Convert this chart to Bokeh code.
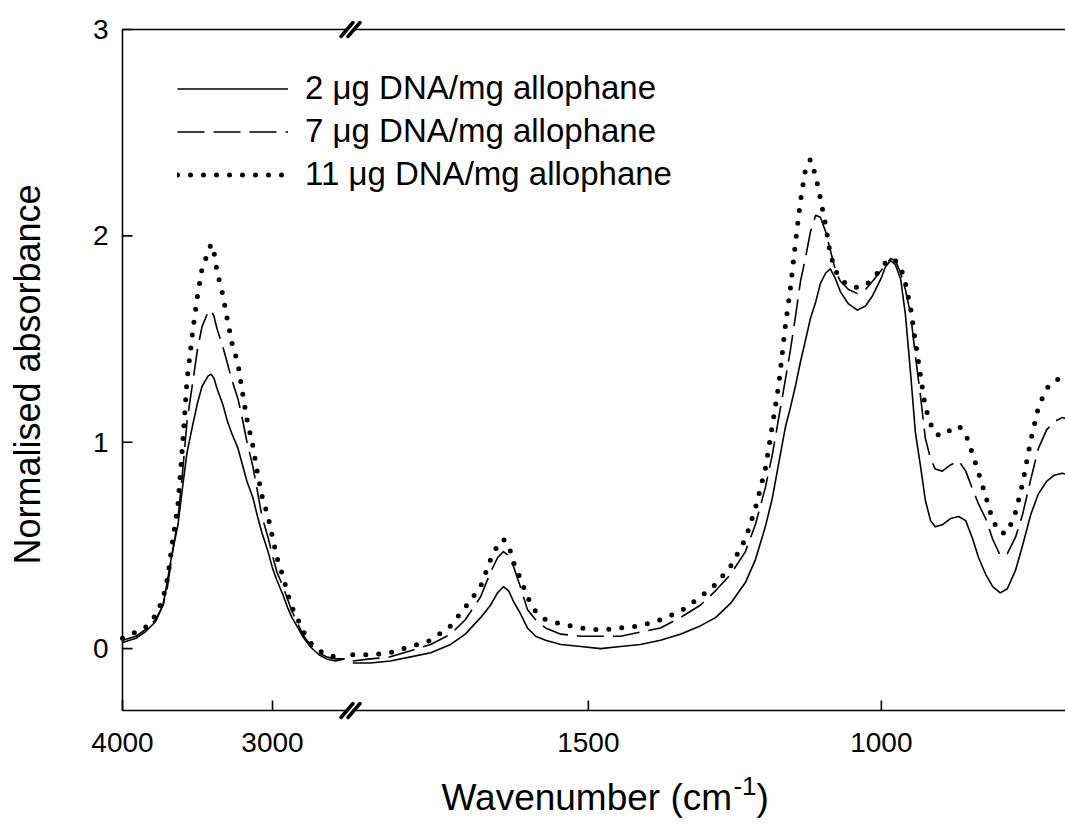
import numpy as np
from bokeh.plotting import figure
from bokeh.models import Range1d, Legend, LegendItem, Label
from bokeh.core.properties import value
from bokeh.embed import file_html
from bokeh.resources import INLINE

FONT = "Liberation Sans"

# ---------------- data (wavenumber in cm-1, normalised absorbance) ----------------
# high-wavenumber segment (left of the axis break)
wn_high = [4000, 3910, 3850, 3780, 3730, 3700, 3670, 3630, 3600, 3570, 3530, 3500, 3470,
           3430, 3410, 3390, 3370, 3330, 3300, 3270, 3230, 3200, 3170, 3130, 3100, 3070,
           3030, 3000, 2970, 2930, 2900, 2870, 2830, 2800, 2750, 2690, 2640, 2580, 2520]
abs_2_high = [0.03, 0.05, 0.08, 0.13, 0.21, 0.33, 0.46, 0.60, 0.78, 0.95, 1.09, 1.19, 1.27,
              1.32, 1.33, 1.31, 1.26, 1.18, 1.10, 1.04, 0.97, 0.89, 0.81, 0.73, 0.64, 0.56,
              0.47, 0.39, 0.33, 0.26, 0.20, 0.15, 0.10, 0.06, 0.01, -0.03, -0.05, -0.06, -0.05]
abs_7_high = [0.04, 0.06, 0.09, 0.14, 0.21, 0.30, 0.45, 0.63, 0.85, 1.10, 1.30, 1.45, 1.56,
              1.63, 1.64, 1.61, 1.55, 1.46, 1.38, 1.30, 1.21, 1.11, 1.00, 0.88, 0.76, 0.64,
              0.54, 0.45, 0.37, 0.30, 0.24, 0.18, 0.12, 0.07, 0.02, -0.02, -0.04, -0.05, -0.05]
abs_11_high = [0.05, 0.08, 0.10, 0.16, 0.24, 0.34, 0.50, 0.70, 0.98, 1.30, 1.55, 1.71, 1.84,
               1.92, 1.96, 1.92, 1.83, 1.71, 1.59, 1.48, 1.38, 1.24, 1.11, 0.98, 0.85, 0.74,
               0.64, 0.54, 0.44, 0.35, 0.27, 0.20, 0.14, 0.09, 0.03, -0.01, -0.03, -0.04, -0.04]

# low-wavenumber segment (right of the axis break)
wn_low = [1902, 1872, 1838, 1803, 1769, 1735, 1710, 1684, 1667, 1655, 1645, 1636, 1628,
          1616, 1604, 1590, 1573, 1547, 1513, 1479, 1445, 1411, 1377, 1343, 1309, 1283,
          1257, 1232, 1215, 1198, 1186, 1175, 1164, 1155, 1146, 1138, 1129, 1121, 1112,
          1104, 1095, 1087, 1078, 1070, 1056, 1041, 1027, 1015, 1001, 993, 984, 976,
          967, 959, 950, 942, 933, 925, 916, 908, 896, 882, 868, 856, 844, 834,
          822, 810, 797, 785, 771, 759, 745, 732, 718, 705, 691, 669]
abs_2_low = [-0.07, -0.07, -0.06, -0.04, -0.02, 0.02, 0.07, 0.15, 0.21, 0.27, 0.30, 0.28, 0.23,
             0.17, 0.10, 0.06, 0.04, 0.02, 0.01, 0.00, 0.01, 0.02, 0.04, 0.07, 0.11, 0.15,
             0.22, 0.32, 0.43, 0.59, 0.73, 0.90, 1.07, 1.17, 1.28, 1.39, 1.50, 1.60, 1.68,
             1.77, 1.82, 1.84, 1.79, 1.73, 1.67, 1.64, 1.66, 1.71, 1.79, 1.85, 1.88, 1.86,
             1.79, 1.62, 1.33, 1.05, 0.88, 0.72, 0.62, 0.59, 0.60, 0.63, 0.64, 0.62, 0.53, 0.44,
             0.36, 0.30, 0.27, 0.29, 0.38, 0.50, 0.65, 0.75, 0.81, 0.84, 0.85, 0.83]
abs_7_low = [-0.06, -0.05, -0.04, -0.01, 0.02, 0.07, 0.14, 0.25, 0.37, 0.44, 0.47, 0.45, 0.40,
             0.30, 0.19, 0.14, 0.10, 0.07, 0.06, 0.06, 0.06, 0.08, 0.10, 0.15, 0.21, 0.28,
             0.36, 0.47, 0.60, 0.78, 0.94, 1.12, 1.30, 1.45, 1.62, 1.78, 1.90, 2.02, 2.10,
             2.09, 2.02, 1.93, 1.83, 1.78, 1.74, 1.72, 1.74, 1.78, 1.83, 1.86, 1.89, 1.88,
             1.82, 1.74, 1.62, 1.42, 1.22, 1.02, 0.92, 0.87, 0.86, 0.89, 0.91, 0.86, 0.77, 0.70,
             0.63, 0.53, 0.45, 0.46, 0.54, 0.65, 0.82, 0.97, 1.06, 1.10, 1.12, 1.10]
abs_11_low = [-0.03, -0.03, -0.02, 0.01, 0.04, 0.11, 0.20, 0.30, 0.43, 0.50, 0.53, 0.50, 0.42,
              0.34, 0.25, 0.18, 0.14, 0.12, 0.10, 0.09, 0.10, 0.11, 0.14, 0.18, 0.25, 0.31,
              0.40, 0.53, 0.68, 0.87, 1.08, 1.28, 1.56, 1.75, 1.98, 2.17, 2.33, 2.37, 2.29,
              2.18, 2.05, 1.91, 1.83, 1.79, 1.76, 1.75, 1.76, 1.79, 1.84, 1.87, 1.89, 1.88,
              1.85, 1.77, 1.65, 1.49, 1.32, 1.17, 1.09, 1.04, 1.03, 1.06, 1.08, 1.04, 0.94, 0.85,
              0.74, 0.62, 0.56, 0.56, 0.66, 0.80, 1.01, 1.17, 1.26, 1.30, 1.31, 1.28]

series_labels = ["2 \u03bcg DNA/mg allophane", "7 \u03bcg DNA/mg allophane", "11 \u03bcg DNA/mg allophane"]
x_tick_values = [4000, 3000, 1500, 1000]
y_tick_values = [0, 1, 2, 3]
y_title = "Normalised absorbance"
x_title_parts = ["Wavenumber (cm", "-1", ")"]

for a in (abs_2_high, abs_7_high, abs_11_high):
    assert len(a) == len(wn_high)
for a in (abs_2_low, abs_7_low, abs_11_low):
    assert len(a) == len(wn_low)

# ---------------- broken wavenumber axis ----------------
HIGH_START, HIGH_END = 4000, 2500
LOW_START = 1911
K_HIGH, K_LOW = 0.15, 0.586
BREAK_U = (HIGH_START - HIGH_END) * K_HIGH


def to_u(w):
    w = np.asarray(w, dtype=float)
    return np.where(w >= HIGH_END, (HIGH_START - w) * K_HIGH,
                    BREAK_U + (LOW_START - w) * K_LOW)


# ---------------- layout (canvas pixels) ----------------
W, H = 1065, 825
FRAME_L, FRAME_T, FRAME_B = 122, 29, 710
Y_MIN, Y_MAX = -0.3, 3.0
S = (FRAME_B - FRAME_T) / (Y_MAX - Y_MIN)      # pixels per absorbance unit
X_END = W - FRAME_L


def yd(Y):   # canvas row -> data y
    return Y_MAX - (Y - FRAME_T) / S


def xd(X):   # canvas column -> data u
    return X - FRAME_L


p = figure(width=W, height=H, output_backend="svg", toolbar_location=None,
           x_range=Range1d(-FRAME_L, W - FRAME_L),
           y_range=Range1d(Y_MAX - (H - FRAME_T) / S, Y_MAX + FRAME_T / S),
           x_axis_location=None, y_axis_location=None, min_border=0)
p.grid.visible = False
p.outline_line_color = None
p.background_fill_color = "white"
p.border_fill_color = "white"

AX = dict(line_color="black", line_width=1.6)
# axis lines: left, bottom, top
p.segment(x0=[0, 0, 0], y0=[Y_MIN, Y_MIN, Y_MAX], x1=[0, X_END, X_END], y1=[Y_MAX, Y_MIN, Y_MAX], **AX)

# ticks (pointing inwards, 10 px)
xt = to_u(x_tick_values)
p.segment(x0=xt, y0=[Y_MIN] * len(xt), x1=xt, y1=[Y_MIN + 10 / S] * len(xt), **AX)
p.segment(x0=[0] * len(y_tick_values), y0=y_tick_values, x1=[10] * len(y_tick_values),
          y1=y_tick_values, **AX)

# tick labels
p.text(x=xt, y=[yd(742)] * len(xt), text=[str(v) for v in x_tick_values],
       text_font=value(FONT), text_font_size=value("28px"), text_color="black",
       text_align="center", text_baseline="middle")
p.text(x=[xd(108)] * len(y_tick_values), y=y_tick_values, text=[str(v) for v in y_tick_values],
       text_font=value(FONT), text_font_size=value("28px"), text_color="black",
       text_align="right", text_baseline="middle")

# curves
styles = [
    dict(line_color="black", line_width=1.6),
    dict(line_color="black", line_width=1.6, line_dash="27 9"),
    dict(line_color="black", line_width=5, line_dash="0 13", line_cap="round"),
]
highs = [abs_2_high, abs_7_high, abs_11_high]
lows = [abs_2_low, abs_7_low, abs_11_low]
legend_renderers = []
for st, yh, yl in zip(styles, highs, lows):
    r = p.line(to_u(wn_high), yh, line_join="round", **st)
    p.line(to_u(wn_low), yl, line_join="round", **st)
    legend_renderers.append(r)

# axis-break marks "//" on bottom and top lines
mark_u = BREAK_U + 3
dy = 7 / S
for y_edge in (Y_MIN, Y_MAX):
    p.segment(x0=[mark_u - 6], y0=[y_edge - dy], x1=[mark_u + 6], y1=[y_edge + dy],
              line_color="white", line_width=5)
    p.segment(x0=[mark_u - 9.5, mark_u - 2.5], y0=[y_edge - dy] * 2,
              x1=[mark_u + 2.5, mark_u + 9.5], y1=[y_edge + dy] * 2,
              line_color="black", line_width=3.5, line_cap="round")

# legend
LEG_ROW = 43
legend = Legend(items=[LegendItem(label=l, renderers=[r]) for l, r in zip(series_labels, legend_renderers)],
                location=(177, H - (88 - LEG_ROW / 2) - 3 * LEG_ROW),
                glyph_width=111, glyph_height=LEG_ROW, label_height=LEG_ROW,
                spacing=0, padding=0, margin=0, label_standoff=17,
                border_line_color=None, background_fill_alpha=0,
                label_text_font=FONT, label_text_font_size="33px", label_text_color="black")
p.add_layout(legend)

# axis titles
p.add_layout(Label(x=xd(27), y=yd(374), text=y_title, angle=np.pi / 2,
                   text_align="center", text_baseline="middle",
                   text_font=FONT, text_font_size="36px", text_color="black"))
title_x = xd(441)
mid_y = yd(797)
p.add_layout(Label(x=title_x, y=mid_y, text=x_title_parts[0], text_align="left",
                   text_baseline="middle", text_font=FONT, text_font_size="37px", text_color="black"))
sup_x = title_x + 7.89 * 37
p.add_layout(Label(x=sup_x, y=yd(785), text=x_title_parts[1], text_align="left",
                   text_baseline="middle", text_font=FONT, text_font_size="26px", text_color="black"))
p.add_layout(Label(x=sup_x + 0.889 * 26, y=mid_y, text=x_title_parts[2], text_align="left",
                   text_baseline="middle", text_font=FONT, text_font_size="37px", text_color="black"))

open("out.html", "w").write(file_html(p, INLINE))
